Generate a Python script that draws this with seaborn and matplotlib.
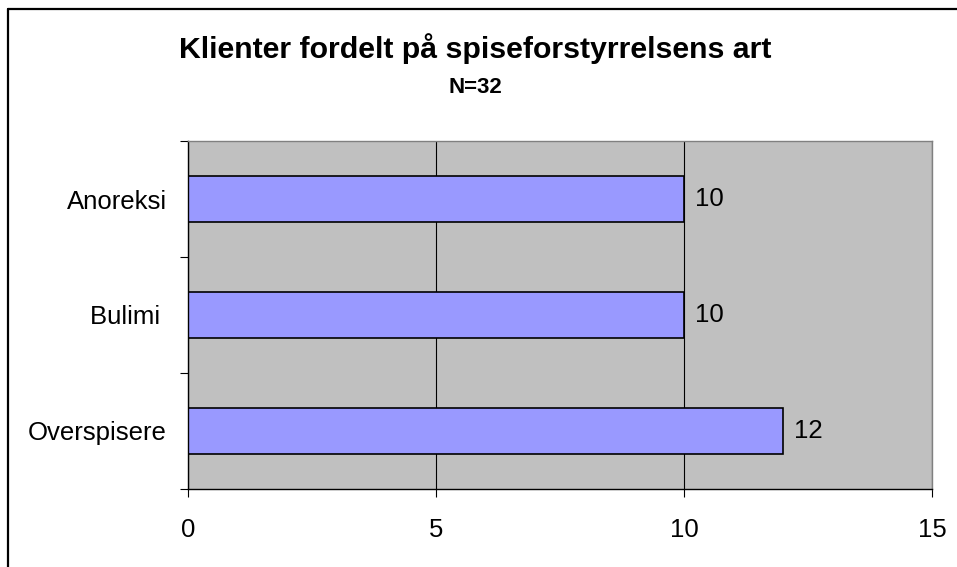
import matplotlib
matplotlib.use('Agg')
import matplotlib.pyplot as plt
from matplotlib.lines import Line2D
import seaborn as sns
import pandas as pd

# data
categories = ['Anoreksi', 'Bulimi ', 'Overspisere']
counts = [10, 10, 12]
x_ticks = [0, 5, 10, 15]
title = 'Klienter fordelt på spiseforstyrrelsens art'
subtitle = 'N=32'

sns.set_style('white')
plt.rcParams['font.family'] = ['Liberation Sans', 'DejaVu Sans']
plt.rcParams['text.color'] = 'black'
plt.rcParams['xtick.labelcolor'] = 'black'
plt.rcParams['ytick.labelcolor'] = 'black'

fig = plt.figure(figsize=(9.57, 5.67), dpi=100)
ax = fig.add_axes([0.1964, 0.1376, 0.7775, 0.6137])

df = pd.DataFrame({'kategori': categories, 'antall': counts})
sns.barplot(data=df, y='kategori', x='antall', orient='h', color='#9999FF',
            saturation=1, edgecolor='black', linewidth=1.2, width=0.39, ax=ax)

ax.set_facecolor('#C0C0C0')
ax.set_xlim(0, 15)
ax.set_xticks(x_ticks)
ax.set_ylim(2.5, -0.5)

# category labels sit on minor ticks, major tick marks go between categories
ax.set_yticks([-0.5, 0.5, 1.5, 2.5])
ax.set_yticklabels([])
ax.set_yticks(range(len(categories)), minor=True)
ax.set_yticklabels(categories, minor=True)

ax.xaxis.grid(True, color='black', linewidth=0.8)
ax.yaxis.grid(False)
ax.set_axisbelow(True)

ax.tick_params(axis='x', which='major', bottom=True, direction='out', length=6,
               width=0.8, color='black', labelsize=18.5, labelcolor='black', pad=15)
ax.tick_params(axis='y', which='major', left=True, direction='out', length=6,
               width=0.8, color='black')
ax.tick_params(axis='y', which='minor', left=True, length=0, pad=15,
               labelsize=18.5, labelcolor='black')

for side in ['left', 'bottom']:
    ax.spines[side].set_color('black')
    ax.spines[side].set_linewidth(1.0)
for side in ['top', 'right']:
    ax.spines[side].set_color('#808080')
    ax.spines[side].set_linewidth(1.0)

ax.bar_label(ax.containers[0], padding=8, fontsize=18.5, color='black')
ax.set_xlabel('')
ax.set_ylabel('')

fig.text(0.497, 1 - 58 / 567, title, ha='center', va='baseline',
         fontsize=21.8, fontweight='bold', color='black')
fig.text(0.497, 1 - 93 / 567, subtitle, ha='center', va='baseline',
         fontsize=16, fontweight='bold', color='black')

# chart frame (only top and left edges visible in the reference)
fig.add_artist(Line2D([8 / 957, 8 / 957], [0, 1 - 9 / 567], color='black', linewidth=1.6,
                      transform=fig.transFigure))
fig.add_artist(Line2D([8 / 957, 1], [1 - 9 / 567, 1 - 9 / 567], color='black', linewidth=1.6,
                      transform=fig.transFigure))

plt.savefig('out.png', dpi=100)
